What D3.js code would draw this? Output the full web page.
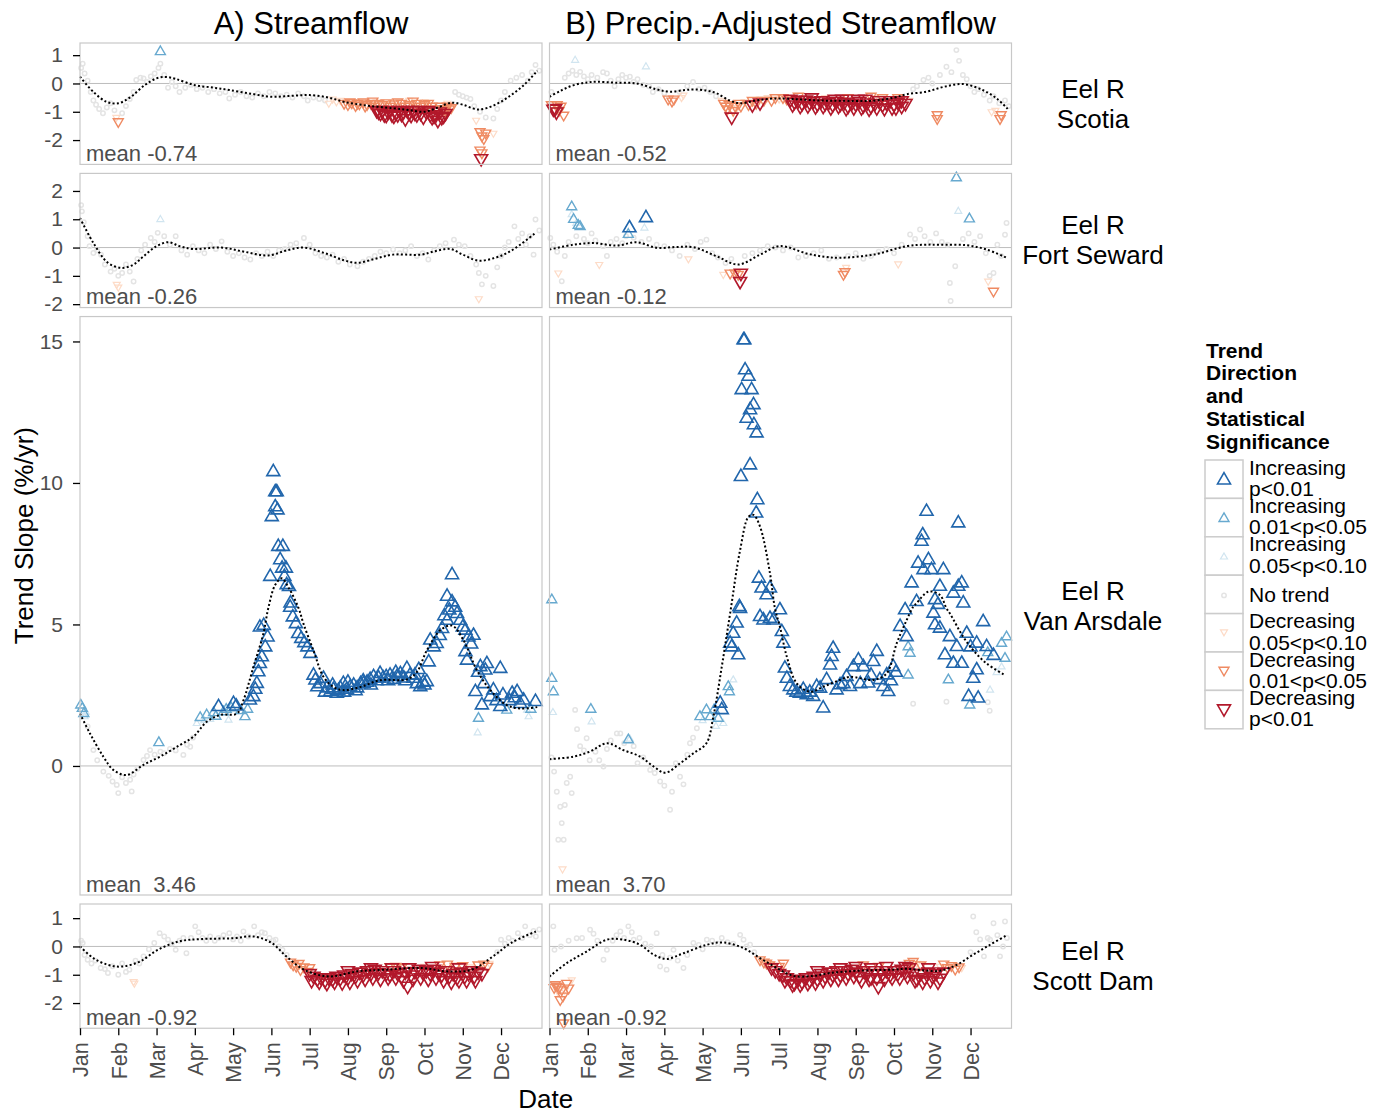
<!DOCTYPE html>
<html>
<head>
<meta charset="utf-8">
<script src="https://cdn.jsdelivr.net/npm/d3@7"></script>
<style>
body { margin: 0; background: #fff; }
text { font-family: "Liberation Sans", Arial, Helvetica, sans-serif; }
</style>
</head>
<body>
<div id="chart"></div>
<script>
// ---- labels ----
const months = ['Jan','Feb','Mar','Apr','May','Jun','Jul','Aug','Sep','Oct','Nov','Dec'];
const columns = ['A) Streamflow', 'B) Precip.-Adjusted Streamflow'];
const sites = [['Eel R','Scotia'], ['Eel R','Fort Seward'], ['Eel R','Van Arsdale'], ['Eel R','Scott Dam']];
const yDomains = [[-2.86, 1.43], [-2.12, 2.62], [-4.56, 15.88], [-2.89, 1.5]];
const yTicks = [[-2,-1,0,1], [-2,-1,0,1,2], [0,5,10,15], [-2,-1,0,1]];
const means = [['-0.74','-0.52'], ['-0.26','-0.12'], [' 3.46',' 3.70'], ['-0.92','-0.92']];

// legend order: code 3 .. -3
const sigCodes = [3, 2, 1, 0, -1, -2, -3];
const sigLabels = [['Increasing','p<0.01'], ['Increasing','0.01<p<0.05'], ['Increasing','0.05<p<0.10'],
  ['No trend'], ['Decreasing','0.05<p<0.10'], ['Decreasing','0.01<p<0.05'], ['Decreasing','p<0.01']];
const sigColors = ['#2166ac', '#67a9cf', '#d1e5f0', '#e4e4e4', '#fddbc7', '#ef8a62', '#b2182b'];

// ---- points: [month, slope %/yr, code] ----
const scotiaA = [
  [0.03,0.55,0],[0.07,0.7,0],[0.12,0.35,0],[0.2,0.1,0],[0.28,-0.3,0],[0.35,-0.6,0],[0.42,-0.75,0],[0.5,-0.9,0],[0.6,-1.05,0],
  [0.7,-0.85,0],[0.8,-0.7,0],[0.9,-0.95,0],[1.1,-1.05,0],[1.2,-0.8,0],[1.3,-0.55,0],[1.4,-0.3,0],[1.47,0.12,0],[1.58,0.2,0],
  [1.66,0.18,0],[1.75,0.05,0],[1.85,0.25,0],[1.95,0.35,0],[2.05,0.55,0],[2.1,0.7,0],[2.2,0.3,0],[2.3,-0.15,0],[2.4,0.05,0],
  [2.5,-0.1,0],[2.6,-0.3,0],[2.75,-0.15,0],[2.9,-0.05,0],[3.05,-0.2,0],[3.2,-0.15,0],[3.35,-0.3,0],[3.5,-0.2,0],[3.65,-0.35,0],
  [3.8,-0.3,0],[3.9,-0.53,0],[4.05,-0.4,0],[4.2,-0.3,0],[4.35,-0.45,0],[4.5,-0.5,0],[4.65,-0.35,0],[4.8,-0.45,0],[4.95,-0.3,0],
  [5.1,-0.35,0],[5.25,-0.45,0],[5.4,-0.4,0],[5.55,-0.5,0],[5.7,-0.35,0],[5.85,-0.45,0],[5.95,-0.6,0],[6.1,-0.5,0],[6.25,-0.55,0],
  [6.4,-0.6,0],[1.0,-1.35,-2],[0.95,-1.2,-1],[2.1,1.12,2],
  [6.5,-0.7,-1],[6.6,-0.55,-1],[6.7,-0.65,-1],[6.8,-0.6,-1],
  [6.9,-0.7,-2],[7.0,-0.75,-2],[7.1,-0.68,-2],[7.2,-0.78,-2],[7.3,-0.72,-2],[7.4,-0.65,-2],[7.5,-0.75,-2],[7.6,-0.7,-2],
  [7.7,-0.8,-2],[7.8,-0.7,-2],[7.9,-0.75,-2],[8.0,-0.68,-2],[8.2,-0.72,-2],[8.4,-0.7,-2],[8.6,-0.75,-2],[8.8,-0.7,-2],
  [9.0,-0.75,-2],[9.2,-0.8,-2],[9.4,-0.8,-2],[9.5,-0.9,-2],[9.6,-0.8,-2],[9.7,-0.85,-2],
  [7.05,-0.65,-2],[7.25,-0.7,-2],[7.45,-0.8,-2],[7.65,-0.62,-2],[8.1,-0.8,-2],[8.3,-0.65,-2],[8.5,-0.8,-2],[8.7,-0.62,-2],
  [8.9,-0.8,-2],[9.1,-0.7,-2],[9.3,-0.9,-2],[9.55,-0.95,-2],[9.65,-0.9,-2],
  [7.75,-0.95,-3],[7.85,-1.05,-3],[7.95,-1.1,-3],[8.05,-1.0,-3],[8.15,-1.1,-3],[8.25,-1.05,-3],[8.35,-0.95,-3],[8.45,-1.0,-3],
  [8.5,-1.24,-3],[8.6,-1.05,-3],[8.7,-0.95,-3],[8.8,-1.1,-3],[8.9,-1.05,-3],[8.97,-1.18,-3],[9.05,-1.0,-3],[9.15,-1.1,-3],
  [9.25,-1.15,-3],[9.35,-1.3,-3],[9.45,-1.2,-3],[9.55,-1.05,-3],
  [7.8,-1.0,-3],[7.9,-0.95,-3],[8.0,-1.12,-3],[8.1,-0.95,-3],[8.2,-1.15,-3],[8.3,-1.1,-3],[8.4,-1.08,-3],[8.55,-0.95,-3],
  [8.65,-1.12,-3],[8.75,-1.05,-3],[8.85,-0.95,-3],[9.1,-0.95,-3],[9.2,-1.2,-3],[9.3,-1.1,-3],[9.4,-1.0,-3],[9.5,-1.15,-3],
  [8.6,-0.6,-1],[9.0,-0.65,-1],[9.6,-0.7,-1],
  [9.8,-0.3,0],[9.9,-0.4,0],[10.0,-0.45,0],[10.1,-0.5,0],[10.2,-0.55,0],[10.3,-0.8,0],[10.45,-1.0,0],[10.6,-1.2,0],[10.8,-1.24,0],
  [10.9,-0.9,0],[11.0,-0.6,0],[11.1,-0.3,0],[11.25,0.1,0],[11.4,0.2,0],[11.55,0.3,0],[11.7,0.1,0],[11.8,0.4,0],[11.9,0.65,0],[12.0,0.45,0],
  [10.35,-1.3,-1],[10.45,-1.7,-2],[10.5,-1.85,-2],[10.55,-1.95,-2],[10.6,-1.75,-2],[10.45,-2.35,-2],[10.5,-2.45,-2],[10.48,-2.65,-3],[10.8,-1.76,-1]
];
const scotiaB = [
  [0.05,-0.75,-2],[0.1,-0.9,-3],[0.15,-0.88,-3],[0.18,-1.0,-3],[0.2,-0.75,-2],[0.3,-0.8,-2],[0.37,-1.12,-2],[0.25,-0.95,-2],
  [0.05,-0.3,0],[0.4,0.2,0],[0.5,0.35,0],[0.6,0.45,0],[0.7,0.3,0],[0.8,0.41,0],[0.9,0.25,0],[1.0,0.15,0],[1.1,0.3,0],[1.25,0.2,0],
  [1.4,0.4,0],[1.5,0.35,0],[1.6,0.1,0],[1.7,-0.1,0],[1.8,0.15,0],[1.9,0.3,0],[2.0,0.2,0],[2.1,0.24,0],[2.2,0.05,0],[2.3,0.15,0],
  [2.45,-0.05,0],[2.6,-0.1,0],[2.7,-0.3,0],[2.85,-0.2,0],[3.0,-0.35,0],[3.4,-0.3,0],[3.6,-0.1,0],[3.75,0.05,0],[3.9,-0.2,0],
  [4.05,-0.15,0],[4.2,-0.3,0],[4.35,-0.45,0],
  [0.67,0.82,1],[2.52,0.59,1],
  [3.1,-0.55,-2],[3.2,-0.62,-2],[3.25,-0.55,-2],[3.5,-0.41,-1],[3.45,-0.5,-1],
  [4.5,-0.6,-1],[4.55,-0.7,-2],[4.6,-0.8,-2],[4.65,-0.9,-2],[4.7,-0.75,-2],[4.76,-1.18,-3],[4.8,-0.95,-2],[4.85,-0.8,-2],
  [4.9,-0.85,-1],[4.95,-0.7,-2],[5.0,-0.8,-2],[5.1,-0.65,-1],[5.2,-0.75,-2],[5.3,-0.6,-2],[5.4,-0.7,-2],[5.5,-0.55,-1],
  [5.6,-0.6,-2],[5.7,-0.5,-1],[5.8,-0.6,-2],[5.9,-0.5,-2],[6.0,-0.55,-1],[6.1,-0.5,-2],[6.2,-0.55,-2],[5.3,-0.75,-3],[5.5,-0.68,-3],
  [6.3,-0.55,-3],[6.4,-0.65,-3],[6.5,-0.6,-3],[6.6,-0.7,-3],[6.7,-0.58,-3],[6.8,-0.68,-3],[6.9,-0.62,-3],[7.0,-0.72,-3],
  [7.1,-0.6,-3],[7.2,-0.7,-3],[7.3,-0.65,-3],[7.4,-0.75,-3],[7.5,-0.62,-3],[7.6,-0.72,-3],[7.7,-0.66,-3],[7.8,-0.8,-3],
  [7.9,-0.68,-3],[8.0,-0.72,-3],[8.1,-0.62,-3],[8.2,-0.78,-3],[8.3,-0.68,-3],[8.4,-0.8,-3],[8.5,-0.7,-3],[8.6,-0.6,-3],
  [8.7,-0.75,-3],[8.8,-0.68,-3],[8.9,-0.6,-3],[9.0,-0.72,-3],[9.1,-0.65,-3],[9.2,-0.6,-3],[9.3,-0.7,-3],
  [6.35,-0.75,-3],[6.55,-0.8,-3],[6.75,-0.78,-3],[6.95,-0.82,-3],[7.15,-0.8,-3],[7.35,-0.85,-3],[7.55,-0.8,-3],[7.75,-0.88,-3],
  [7.95,-0.85,-3],[8.15,-0.85,-3],[8.35,-0.9,-3],[8.55,-0.85,-3],[8.75,-0.88,-3],[9.05,-0.85,-3],[8.25,-0.55,-3],[7.45,-0.55,-3],
  [6.85,-0.5,-3],[7.65,-0.55,-3],[8.05,-0.55,-3],
  [6.5,-0.45,-2],[7.2,-0.5,-1],[7.8,-0.5,-2],[8.4,-0.45,-2],[8.5,-0.5,-1],[8.7,-0.5,-2],[9.1,-0.5,-2],[9.3,-0.55,-1],
  [9.4,-0.6,-1],[9.2,-0.8,-3],[8.95,-0.85,-3],
  [9.5,-0.2,0],[9.6,-0.1,0],[9.77,0.12,0],[9.9,0.2,0],[10.0,0.0,0],[10.2,0.3,0],[10.37,0.59,0],[10.5,0.4,0],[10.63,1.18,0],
  [10.7,0.8,0],[10.8,0.3,0],[10.9,0.15,0],[11.0,-0.1,0],[11.1,-0.3,0],[11.2,-0.2,0],[11.35,-0.4,0],[11.5,-0.6,0],[11.6,-0.45,0],
  [11.75,-0.7,0],[11.9,-0.6,0],[12.0,-0.8,0],
  [10.13,-1.24,-2],[10.13,-1.1,-2],[11.55,-1.0,-1],[11.65,-0.95,-1],[11.77,-1.24,-2],[11.8,-1.1,-2]
];
const sewardA = [
  [0.03,1.5,0],[0.05,1.28,0],[0.1,0.9,0],[0.2,0.4,0],[0.25,0.05,0],[0.35,-0.19,0],[0.45,-0.1,0],[0.55,-0.25,0],[0.65,-0.6,0],
  [0.8,-0.85,0],[0.9,-0.75,0],[1.0,-1.0,0],[1.1,-0.9,0],[1.2,-0.6,0],[1.3,-0.85,0],[1.4,-1.2,0],[1.5,-0.4,0],[1.6,-0.1,0],
  [1.7,0.1,0],[1.85,0.34,0],[1.95,0.2,0],[2.03,0.52,0],[2.2,0.4,0],[2.35,0.1,0],[2.5,0.4,0],[2.65,-0.1,0],[2.8,-0.25,0],
  [2.95,0.05,0],[3.1,-0.1,0],[3.25,-0.2,0],[3.4,0.1,0],[3.55,-0.05,0],[3.7,0.22,0],[3.85,-0.15,0],[4.0,-0.3,0],[4.15,-0.2,0],
  [4.3,-0.35,0],[4.45,-0.42,0],[4.6,-0.2,0],[4.75,-0.3,0],[4.9,-0.15,0],[5.05,-0.3,0],[5.2,-0.1,0],[5.35,-0.05,0],[5.5,0.1,0],
  [5.65,0.15,0],[5.85,0.34,0],[6.0,0.1,0],[6.15,-0.2,0],[6.3,-0.3,0],[6.45,-0.35,0],[6.6,-0.25,0],[6.75,-0.5,0],[6.9,-0.4,0],
  [7.05,-0.6,0],[7.25,-0.66,0],[7.4,-0.5,0],[7.55,-0.4,0],[7.7,-0.3,0],[7.85,-0.15,0],[8.0,-0.2,0],[8.18,-0.07,0],[8.35,-0.2,0],
  [8.5,-0.1,0],[8.65,0.05,0],[8.8,-0.3,0],[8.95,-0.2,0],[9.1,-0.42,0],[9.25,-0.1,0],[9.4,0.05,0],[9.55,0.15,0],[9.77,0.28,0],
  [9.9,0.1,0],[10.05,0.05,0],[10.2,-0.3,0],[10.35,-0.6,0],[10.42,-0.9,0],[10.5,-1.3,0],[10.6,-1.0,0],[10.8,-1.36,0],[10.9,-0.7,0],
  [11.0,-0.3,0],[11.1,0.0,0],[11.2,0.2,0],[11.35,0.75,0],[11.45,0.3,0],[11.55,0.5,0],[11.65,0.1,0],[11.75,0.4,0],[11.85,-0.25,0],
  [11.9,0.99,0],[12.0,0.6,0],
  [2.1,0.99,1],[0.96,-1.3,-1],[1.0,-1.4,-1],[10.42,-1.81,-1]
];
const sewardB = [
  [0.02,0.34,0],[0.1,0.1,0],[0.2,-0.15,0],[0.32,-1.19,0],[0.4,-0.3,0],[0.5,0.2,0],[0.7,0.4,0],[0.9,0.3,0],[1.0,0.15,0],
  [1.1,0.5,0],[1.2,0.25,0],[1.4,0.05,0],[1.5,-0.3,0],[1.6,0.2,0],[1.75,0.3,0],[1.9,0.15,0],[2.0,0.4,0],[2.2,0.35,0],[2.4,0.2,0],
  [2.6,0.3,0],[2.8,0.1,0],[3.0,0.05,0],[3.2,-0.1,0],[3.4,-0.3,0],[3.6,0.1,0],[3.8,-0.05,0],[3.95,0.2,0],[4.1,0.28,0],[4.25,-0.2,0],
  [4.4,-0.35,0],[4.6,-0.55,0],[4.75,-0.4,0],[5.1,-0.3,0],[5.3,-0.2,0],[5.5,-0.1,0],[5.7,0.05,0],[5.9,0.0,0],[6.1,-0.1,0],
  [6.3,0.0,0],[6.5,-0.35,0],[6.7,-0.3,0],[6.9,-0.2,0],[7.1,-0.1,0],[7.3,-0.4,0],[7.5,-0.35,0],[7.8,-0.3,0],[8.0,-0.2,0],
  [8.2,-0.4,0],[8.4,-0.3,0],[8.6,-0.15,0],[8.8,-0.05,0],[9.0,-0.2,0],[9.2,0.1,0],[9.42,0.46,0],[9.55,0.3,0],[9.68,0.64,0],
  [9.8,0.4,0],[9.95,0.2,0],[10.1,0.5,0],[10.25,0.2,0],[10.4,0.1,0],[10.46,-1.25,0],[10.48,-1.89,0],[10.6,-0.66,0],[10.8,0.3,0],
  [10.95,0.5,0],[11.1,0.2,0],[11.25,0.4,0],[11.4,-0.2,0],[11.5,-1.0,0],[11.6,-0.9,0],[11.7,0.1,0],[11.8,-0.3,0],[11.9,0.45,0],[11.94,0.87,0],
  [0.58,1.44,2],[0.63,0.99,2],[0.75,0.78,2],[0.8,0.74,2],[0.58,1.16,1],[0.7,0.85,1],[2.09,0.69,3],[2.52,1.05,3],[2.06,0.46,2],
  [2.48,0.69,1],[10.63,2.46,2],[10.68,1.28,1],[10.97,1.01,2],
  [0.23,-0.9,-1],[1.3,-0.6,-1],[3.63,-0.4,-1],[9.11,-0.58,-1],[11.46,-1.19,-1],[4.54,-0.95,-1],[4.72,-0.9,-2],[4.85,-0.9,-2],
  [4.93,-0.95,-2],[4.98,-1.19,-3],[5.0,-0.9,-3],[7.68,-0.95,-2],[7.72,-0.85,-2],[7.75,-0.7,-1],[11.6,-1.54,-2]
];
const arsdaleA = [
  [0.02,2.15,2],[0.06,2.03,2],[0.1,1.85,2],[0.12,1.74,1],[0.15,1.9,1],
  [0.2,1.4,0],[0.35,0.56,0],[0.45,0.2,0],[0.61,-0.2,0],[0.75,-0.35,0],[0.85,-0.55,0],[0.96,-0.67,0],[1.0,-0.96,0],[1.1,-0.4,0],
  [1.2,-0.6,0],[1.31,-0.49,0],[1.35,-0.9,0],[1.4,-0.3,0],[1.5,-0.1,0],[1.66,0.21,0],[1.75,0.35,0],[1.83,0.56,0],[1.95,0.4,0],
  [2.1,0.5,0],[2.2,0.45,0],[2.35,0.6,0],[2.5,0.55,0],[2.7,0.39,0],[2.8,0.75,0],[2.88,0.68,0],[2.95,1.0,0],
  [2.06,0.82,2],
  [3.05,1.5,1],[3.14,1.71,2],[3.25,1.6,1],[3.31,1.8,2],[3.4,1.65,1],[3.49,1.88,2],[3.55,1.75,2],[3.62,2.09,3],[3.75,1.91,2],
  [3.82,2.0,2],[3.88,1.62,1],[3.95,2.05,2],[4.01,2.2,3],[4.08,2.11,3],[4.2,1.95,2],[4.31,1.74,2],[4.38,2.0,2],[4.44,2.32,3],[4.53,2.44,3],
  [4.58,2.7,3],[4.62,2.91,3],[4.66,3.32,3],[4.7,3.61,3],[4.75,3.85,3],[4.84,4.2,3],[4.7,4.9,3],[4.8,4.96,3],[4.9,4.55,3],
  [5.05,10.39,3],[5.1,9.68,3],[5.14,9.68,3],[5.1,9.15,3],[5.16,9.04,3],[5.01,8.8,3],[5.18,7.75,3],[5.3,7.75,3],[5.23,7.28,3],
  [5.28,6.98,3],[5.38,6.98,3],[4.97,6.69,3],[5.34,6.69,3],[5.4,6.4,3],[5.46,6.33,3],[5.5,5.75,3],
  [5.49,5.6,3],[5.56,5.26,3],[5.64,5.02,3],[5.7,4.67,3],[5.78,4.5,3],[5.86,4.35,3],[5.94,4.2,3],[6.02,3.97,3],[6.1,3.2,3],
  [6.15,3.03,3],[6.2,2.79,3],[6.28,2.9,3],[6.36,3.09,3],[6.45,2.75,3],[6.54,2.62,3],[6.62,2.7,3],[6.71,2.56,3],[6.8,2.75,3],
  [6.88,2.91,3],[6.97,2.7,3],[7.06,2.79,3],[7.15,2.85,3],[7.24,2.75,3],[7.33,2.9,3],[7.41,2.91,3],[7.5,2.95,3],[7.58,3.05,3],
  [7.67,3.15,3],[7.75,3.0,3],[7.84,3.26,3],[7.92,3.1,3],[8.0,3.15,3],[8.1,3.2,3],[8.2,3.05,3],[8.28,3.15,3],[8.37,3.25,3],
  [8.46,3.1,3],[8.54,3.44,3],[8.62,3.2,3],[8.71,3.09,3],[8.8,2.9,3],[8.89,2.79,3],[8.97,2.95,3],[9.06,2.97,3],[9.11,3.67,3],
  [6.4,2.6,3],[6.6,2.85,3],[6.75,2.65,3],[6.9,2.6,3],[7.0,2.95,3],[7.2,2.65,3],[7.4,3.0,3],[7.6,2.85,3],[7.8,3.1,3],
  [8.05,3.0,3],[8.25,3.3,3],[8.5,3.0,3],[8.75,3.2,3],[8.85,3.4,3],[9.0,2.85,3],
  [9.15,4.44,3],[9.24,4.2,3],[9.32,4.32,3],[9.4,4.6,3],[9.46,4.85,3],[9.52,5.3,3],[9.59,5.14,3],[9.59,5.99,3],[9.65,5.5,3],
  [9.72,5.79,3],[9.72,6.75,3],[9.8,5.6,3],[9.85,5.38,3],[9.93,5.14,3],[10.0,4.9,3],[10.07,4.79,3],[10.07,4.03,3],[10.11,3.73,3],
  [10.15,4.55,3],[10.22,4.3,3],[10.28,4.61,3],[10.33,2.62,3],[10.4,3.3,3],[10.46,3.5,3],[10.5,2.15,3],[10.55,2.9,3],[10.59,3.38,3],
  [10.63,3.61,3],[10.72,2.44,3],[10.8,2.68,3],[10.88,2.3,3],[10.98,3.44,3],[10.98,2.09,3],[11.05,2.5,3],[11.15,1.97,2],[11.22,2.3,3],
  [11.29,2.56,3],[11.36,2.4,3],[11.42,2.62,3],[11.5,2.2,3],[11.59,2.32,3],[11.68,1.97,1],[11.72,1.74,1],[11.78,2.0,2],[11.9,2.27,3],
  [10.41,1.68,2],[10.39,1.17,1]
];
const arsdaleB = [
  [0.06,5.87,2],[0.06,3.09,2],[0.1,2.62,2],[0.09,1.89,1],
  [0.05,0.3,0],[0.12,-0.2,0],[0.19,-0.91,0],[0.23,-2.61,0],[0.28,-1.44,0],[0.32,-2.02,0],[0.37,-2.61,0],[0.4,-1.38,0],[0.45,-0.6,0],
  [0.54,-0.38,0],[0.58,-0.96,0],[0.67,1.98,0],[0.72,1.3,0],[0.8,0.7,0],[0.9,0.55,0],[0.97,0.98,0],[1.05,0.2,0],[1.2,0.5,0],
  [1.3,0.2,0],[1.41,-0.02,0],[1.5,0.6,0],[1.6,0.9,0],[1.76,1.15,0],[1.85,1.15,0],[1.95,0.8,0],[2.2,0.7,0],[2.3,0.1,0],[2.45,0.3,0],
  [2.63,-0.14,0],[2.75,-0.25,0],[2.89,-0.55,0],[3.0,-0.7,0],[3.15,-1.55,0],[3.2,-0.91,0],[3.3,0.1,0],[3.41,-0.38,0],[3.5,-0.65,0],
  [3.6,0.4,0],[3.67,0.8,0],[3.75,1.0,0],[3.85,1.33,0],[9.5,2.2,0],[10.37,2.27,0],[11.45,2.25,0],[11.5,1.95,0],
  [0.34,-3.64,-1],
  [1.08,2.0,2],[1.1,1.56,1],[2.06,0.92,2],[2.1,0.95,1],
  [3.93,1.74,2],[4.0,1.6,1],[4.1,1.98,2],[4.2,1.74,2],[4.3,1.98,2],[4.41,1.68,2],[4.46,2.21,3],[4.5,1.98,3],[4.54,1.5,1],
  [4.35,1.4,1],[4.67,2.8,2],[4.7,2.62,2],[4.8,3.04,1],
  [4.72,4.33,3],[4.76,4.2,3],[4.8,4.68,3],[4.89,5.04,3],[4.93,3.92,3],[4.96,5.62,3],[4.98,5.56,3],
  [5.0,10.22,3],[5.24,10.63,3],[5.43,9.4,3],[5.4,8.93,3],[5.07,15.05,3],[5.09,15.05,3],[5.11,13.99,3],[5.2,13.76,3],[5.02,13.29,3],
  [5.28,13.29,3],[5.33,12.76,3],[5.24,12.58,3],[5.15,12.28,3],[5.34,12.05,3],[5.41,11.76,3],
  [5.47,6.63,3],[5.54,6.28,3],[5.76,6.28,3],[5.67,6.04,3],[5.5,5.27,3],[5.59,5.15,3],[5.76,5.21,3],[5.85,5.15,3],[6.02,5.51,3],
  [6.07,4.74,3],[6.11,4.33,3],[6.15,3.45,3],[6.2,3.09,3],[6.28,2.8,3],[6.37,2.68,3],[6.45,2.6,3],[6.54,2.56,3],[6.63,2.7,3],
  [6.72,2.51,3],[6.8,2.6,3],[6.89,2.45,3],[6.98,2.8,3],[7.07,2.74,3],[7.15,2.04,3],[7.24,3.04,3],[7.33,3.56,3],[7.37,3.86,3],
  [7.41,4.15,3],[7.5,2.68,3],[7.59,2.86,3],[7.68,2.9,3],[7.76,3.15,3],[7.85,2.8,3],[7.94,3.5,3],[8.07,3.74,3],[8.12,2.9,3],
  [8.2,3.5,3],[8.33,2.92,3],[8.4,3.2,3],[8.46,3.68,3],[8.55,4.04,3],[8.63,3.04,3],[8.72,2.8,3],[8.81,3.21,3],[8.85,2.62,3],
  [8.92,3.0,3],[8.98,3.5,3],[9.05,3.3,3],[9.16,4.92,3],[9.29,5.51,3],[9.33,4.56,3],[9.37,4.21,2],[9.42,3.98,2],[9.37,3.21,2],[9.59,5.8,3],
  [9.85,8.99,3],[9.75,8.16,3],[9.72,7.93,3],[9.63,7.16,3],[9.9,7.28,3],[9.77,6.93,3],[9.98,6.93,3],[10.29,6.93,3],[10.68,8.58,3],
  [9.46,6.46,3],[10.2,6.34,3],[10.68,6.34,3],[10.77,6.46,3],[10.55,6.1,3],[10.81,5.75,3],[10.07,5.87,3],[10.15,5.7,3],
  [10.03,5.39,3],[10.07,4.98,3],[10.2,4.86,3],[10.46,4.56,3],[10.33,3.92,3],[10.55,3.62,3],[10.42,3.04,2],[10.64,4.21,3],
  [10.77,3.62,3],[10.9,4.68,3],[11.0,4.2,3],[11.16,4.33,3],[11.33,5.09,3],[11.42,4.21,3],[11.45,4.0,2],[11.07,3.09,3],[11.16,3.39,3],
  [10.98,2.15,2],[11.2,2.39,3],[11.51,2.68,1],[11.81,4.33,2],[11.94,4.56,2],[11.9,3.8,2],[11.81,3.5,1],[11.68,3.3,1],[11.6,3.9,3],[10.95,2.45,3]
];
const scottA = [
  [0.03,0.2,0],[0.07,0.12,0],[0.12,-0.3,0],[0.2,-0.47,0],[0.3,-0.6,0],[0.4,-0.5,0],[0.54,-0.76,0],[0.65,-0.8,0],[0.73,-0.94,0],
  [0.85,-0.7,0],[1.0,-1.0,0],[1.1,-0.6,0],[1.2,-0.9,0],[1.29,-0.82,0],[1.45,-0.5,0],[1.55,-0.6,0],[1.66,-0.35,0],[1.8,-0.1,0],
  [1.94,0.12,0],[2.08,0.47,0],[2.2,0.35,0],[2.3,0.24,0],[2.4,0.1,0],[2.5,-0.12,0],[2.6,0.2,0],[2.7,0.3,0],[2.78,-0.24,0],
  [2.9,0.3,0],[3.01,0.71,0],[3.1,0.5,0],[3.2,0.3,0],[3.3,0.2,0],[3.4,0.35,0],[3.52,0.2,0],[3.62,0.3,0],[3.75,0.4,0],[3.9,0.47,0],
  [4.0,0.25,0],[4.1,0.35,0],[4.2,0.2,0],[4.27,0.53,0],[4.4,0.35,0],[4.55,0.71,0],[4.65,0.4,0],[4.75,0.5,0],[4.83,0.47,0],
  [4.95,0.3,0],[5.05,0.2,0],[5.11,0.24,0],[5.2,0.0,0],[5.29,-0.12,0],[5.4,-0.3,0],[10.9,-0.2,0],[11.0,0.24,0],[11.1,0.1,0],
  [11.2,0.3,0],[11.3,0.2,0],[11.44,0.47,0],[11.55,0.3,0],[11.63,0.71,0],[11.75,0.4,0],[11.85,0.55,0],[11.91,0.35,0],[12.0,0.6,0],
  [1.4,-1.24,-1],[1.42,-1.3,-1],
  [5.5,-0.55,-2],[5.57,-0.65,-2],[5.65,-0.7,-2],[5.72,-0.6,-2],[5.76,-0.82,-2],[5.85,-0.72,-2],[5.95,-0.88,-2],[6.0,-0.75,-2],
  [6.0,-0.95,-3],[6.1,-1.05,-3],[6.2,-1.15,-3],[6.3,-1.1,-3],[6.4,-1.2,-3],[6.5,-1.1,-3],[6.6,-1.15,-3],[6.7,-1.05,-3],
  [6.8,-1.12,-3],[6.9,-1.0,-3],[7.0,-1.1,-3],[7.1,-0.95,-3],[7.2,-1.05,-3],[7.3,-0.9,-3],[7.4,-1.0,-3],[7.5,-0.85,-3],
  [7.6,-0.95,-3],[7.7,-0.8,-3],[7.8,-0.92,-3],[7.9,-0.85,-3],[8.0,-0.95,-3],[8.1,-1.0,-3],[8.2,-0.85,-3],[8.3,-0.95,-3],
  [8.4,-1.05,-3],[8.5,-0.9,-3],[8.56,-1.4,-3],[8.65,-1.0,-3],[8.75,-0.88,-3],[8.85,-0.8,-3],[8.95,-0.9,-3],[9.05,-0.85,-3],
  [9.15,-0.95,-3],[9.25,-0.8,-3],[9.35,-0.9,-3],[9.45,-1.0,-3],[9.55,-0.85,-3],[9.65,-1.05,-3],[9.75,-0.95,-3],[9.85,-1.1,-3],
  [9.95,-0.9,-3],[10.05,-1.05,-3],[10.15,-0.95,-3],[10.25,-0.85,-3],[10.33,-1.2,-3],[10.4,-0.9,-3],[10.5,-0.95,-3],
  [6.05,-1.2,-3],[6.25,-1.25,-3],[6.45,-1.3,-3],[6.65,-1.25,-3],[6.85,-1.28,-3],[7.05,-1.25,-3],[7.25,-1.2,-3],[7.45,-1.15,-3],
  [7.65,-1.1,-3],[7.85,-1.15,-3],[8.05,-1.1,-3],[8.25,-1.1,-3],[8.45,-1.2,-3],[8.7,-1.15,-3],[8.9,-1.1,-3],[9.1,-1.15,-3],
  [9.3,-1.1,-3],[9.5,-1.2,-3],[9.7,-1.25,-3],[9.9,-1.2,-3],[10.1,-1.2,-3],[10.3,-1.05,-3],[7.0,-0.85,-3],[7.6,-0.75,-3],
  [8.15,-0.75,-3],[8.6,-0.75,-3],[9.2,-0.7,-3],[9.9,-0.75,-3],
  [8.1,-0.72,-2],[8.25,-0.7,-2],[8.4,-0.75,-2],[9.0,-0.7,-1],[9.4,-0.65,-2],[9.6,-0.62,-2],[9.8,-0.7,-2],[10.0,-0.68,-2],
  [10.2,-0.72,-1],[10.4,-0.65,-2],[10.55,-0.62,-2],[10.65,-0.7,-2],[10.7,-0.6,-1]
];
const scottB = [
  [0.15,-1.35,-2],[0.2,-1.4,-2],[0.25,-1.45,-2],[0.32,-1.53,-2],[0.28,-1.88,-2],[0.35,-1.75,-2],[0.22,-1.6,-1],[0.5,-1.47,-2],
  [0.45,-1.3,-2],[0.58,-1.18,-1],[0.37,-2.7,-2],[0.12,-1.45,-2],[0.4,-1.55,-1],
  [0.1,0.71,0],[0.13,-0.12,0],[0.3,0.0,0],[0.5,0.2,0],[0.71,0.29,0],[0.85,0.3,0],[1.06,0.59,0],[1.15,0.45,0],[1.25,0.2,0],
  [1.41,-0.47,0],[1.5,-0.12,0],[1.65,0.2,0],[1.75,0.4,0],[1.85,0.53,0],[1.95,0.3,0],[2.06,0.71,0],[2.15,0.5,0],[2.2,0.24,0],
  [2.35,0.3,0],[2.5,0.1,0],[2.65,0.0,0],[2.8,0.47,0],[2.89,-0.71,0],[2.95,-0.3,0],[3.06,-0.82,0],[3.15,-0.4,0],[3.24,-0.12,0],
  [3.35,-0.5,0],[3.5,-0.76,0],[3.6,-0.3,0],[3.76,0.12,0],[3.9,0.05,0],[4.0,-0.1,0],[4.11,0.24,0],[4.25,0.2,0],[4.4,0.1,0],
  [4.5,0.3,0],[4.65,0.15,0],[4.8,0.1,0],[4.98,0.41,0],[5.07,0.24,0],[5.15,0.0,0],[5.24,0.06,0],[5.35,-0.2,0],
  [11.0,-0.2,0],[11.07,1.06,0],[11.15,0.5,0],[11.25,0.25,0],[11.35,-0.35,0],[11.45,0.3,0],[11.51,0.24,0],[11.6,0.82,0],
  [11.7,0.4,0],[11.77,-0.35,0],[11.85,0.0,0],[11.9,0.88,0],[11.95,0.3,0],
  [5.5,-0.47,-2],[5.6,-0.55,-2],[5.67,-0.59,-2],[5.75,-0.65,-2],[6.11,-0.59,-2],[6.0,-0.7,-2],
  [5.8,-0.75,-3],[5.9,-0.85,-3],[6.0,-0.95,-3],[6.1,-1.0,-3],[6.2,-1.1,-3],[6.3,-1.2,-3],[6.4,-1.3,-3],[6.5,-1.15,-3],
  [6.6,-1.25,-3],[6.7,-1.1,-3],[6.8,-1.2,-3],[6.9,-1.05,-3],[7.0,-1.15,-3],[7.1,-0.95,-3],[7.2,-1.05,-3],[7.3,-0.9,-3],
  [7.4,-1.0,-3],[7.5,-0.85,-3],[7.6,-1.0,-3],[7.7,-0.85,-3],[7.8,-0.95,-3],[7.9,-0.8,-3],[8.0,-0.9,-3],[8.1,-1.05,-3],
  [8.2,-0.85,-3],[8.3,-0.95,-3],[8.4,-1.1,-3],[8.5,-0.85,-3],[8.59,-1.41,-3],[8.7,-0.95,-3],[8.8,-0.85,-3],[8.9,-1.0,-3],
  [9.0,-0.85,-3],[9.1,-0.95,-3],[9.2,-0.8,-3],[9.3,-0.9,-3],[9.4,-0.75,-3],[9.5,-0.95,-3],[9.6,-1.15,-3],[9.7,-0.95,-3],
  [9.8,-1.1,-3],[9.9,-0.9,-3],[10.0,-1.05,-3],[10.1,-0.95,-3],[10.2,-1.12,-3],[10.3,-0.9,-3],
  [6.15,-1.2,-3],[6.35,-1.35,-3],[6.55,-1.35,-3],[6.75,-1.3,-3],[6.95,-1.28,-3],[7.15,-1.2,-3],[7.35,-1.15,-3],[7.55,-1.15,-3],
  [7.75,-1.1,-3],[7.95,-1.05,-3],[8.15,-1.2,-3],[8.35,-1.15,-3],[8.55,-1.1,-3],[8.75,-1.15,-3],[8.95,-1.1,-3],[9.15,-1.1,-3],
  [9.35,-1.05,-3],[9.55,-1.2,-3],[9.75,-1.25,-3],[9.95,-1.2,-3],[10.15,-1.25,-3],[7.0,-0.85,-3],[7.6,-0.75,-3],[8.0,-0.7,-3],
  [8.4,-0.75,-3],[8.8,-0.7,-3],[9.3,-0.7,-3],[9.9,-0.75,-3],
  [8.2,-0.65,-2],[8.6,-0.7,-2],[9.4,-0.6,-2],[9.5,-0.53,-2],[9.6,-0.6,-1],[9.7,-0.65,-2],[10.2,-0.7,-1],[10.3,-0.62,-2],
  [10.4,-0.75,-2],[10.5,-0.68,-2],[10.6,-0.8,-2],[10.7,-0.72,-2],[10.77,-0.75,-1]
];

// ---- smoothed fits: [month, slope] ----
const scotiaAFit = [[0,0.24],[0.35,-0.3],[0.7,-0.65],[1.0,-0.7],[1.3,-0.5],[1.7,-0.05],[2.0,0.18],[2.25,0.23],[2.5,0.16],[3.0,-0.06],
  [3.5,-0.15],[3.9,-0.23],[4.5,-0.37],[5.0,-0.47],[5.5,-0.44],[6.0,-0.41],[6.5,-0.5],[6.9,-0.65],[7.5,-0.78],[8.2,-0.88],[8.6,-0.94],
  [9.0,-1.0],[9.35,-0.85],[9.7,-0.68],[10.0,-0.75],[10.4,-0.92],[10.8,-0.78],[11.2,-0.47],[11.6,-0.05],[11.95,0.45]];
const scotiaBFit = [[0,-0.47],[0.3,-0.25],[0.63,-0.06],[1.0,0.04],[1.24,0.06],[1.7,0.03],[2.28,0.0],[2.8,-0.21],[3.15,-0.29],[3.5,-0.24],
  [3.76,-0.21],[4.1,-0.25],[4.37,-0.35],[4.7,-0.6],[4.98,-0.7],[5.4,-0.6],[5.85,-0.53],[6.37,-0.55],[7.0,-0.6],[7.6,-0.61],[8.46,-0.61],
  [9.0,-0.5],[9.33,-0.38],[9.85,-0.29],[10.3,-0.12],[10.8,-0.02],[11.33,-0.24],[11.7,-0.55],[11.97,-0.9]];
const sewardAFit = [[0,1.05],[0.35,0.16],[0.73,-0.54],[1.1,-0.72],[1.4,-0.6],[1.66,-0.31],[2.0,0.05],[2.31,0.19],[2.6,0.05],[2.96,-0.05],
  [3.7,0.0],[4.3,-0.15],[4.92,-0.28],[5.4,-0.1],[5.85,0.0],[6.4,-0.2],[6.9,-0.45],[7.25,-0.54],[7.7,-0.4],[8.18,-0.25],[8.9,-0.25],
  [9.3,-0.12],[9.67,-0.05],[10.0,-0.25],[10.4,-0.46],[10.8,-0.38],[11.16,-0.19],[11.5,0.1],[11.9,0.52]];
const sewardBFit = [[0,-0.07],[0.63,0.1],[1.15,0.16],[1.76,0.07],[2.28,0.19],[2.8,-0.01],[3.3,0.02],[3.76,0.01],[4.37,-0.31],[4.93,-0.6],
  [5.5,-0.25],[6.02,0.05],[6.72,-0.21],[7.2,-0.33],[7.59,-0.36],[8.46,-0.25],[9.33,0.05],[9.8,0.1],[10.2,0.1],[10.9,0.08],[11.42,-0.07],[11.94,-0.36]];
const arsdaleAFit = [[0,1.85],[0.26,1.15],[0.61,0.33],[0.87,-0.14],[1.22,-0.32],[1.66,0.04],[2.09,0.33],[2.61,0.74],[2.96,1.03],[3.31,1.56],
  [3.66,1.8],[4.1,1.85],[4.27,2.32],[4.53,3.5],[4.79,4.67],[4.92,5.58],[5.1,6.4],[5.27,6.63],[5.45,6.3],[5.71,5.58],[5.84,5.02],[6.1,4.08],
  [6.36,3.15],[6.62,2.79],[6.88,2.68],[7.32,2.79],[7.84,3.03],[8.54,3.06],[8.8,3.32],[9.06,4.08],[9.41,4.79],[9.72,4.96],[10.02,4.44],
  [10.37,3.38],[10.72,2.68],[11.15,2.15],[11.5,2.03],[12.0,2.09]];
const arsdaleBFit = [[0,0.24],[0.63,0.33],[1.06,0.51],[1.5,0.8],[1.93,0.56],[2.37,0.33],[2.72,-0.02],[3.02,-0.24],[3.41,0.09],[3.76,0.45],
  [4.1,0.8],[4.28,1.74],[4.5,3.5],[4.72,5.4],[4.98,7.63],[5.2,8.81],[5.33,8.87],[5.5,8.46],[5.76,6.81],[5.89,5.57],[6.02,4.92],[6.2,3.86],
  [6.46,2.92],[6.81,2.62],[7.15,2.8],[7.59,3.04],[7.85,3.15],[8.46,3.04],[8.81,3.27],[9.07,4.33],[9.33,5.15],[9.5,5.62],[9.59,5.75],
  [9.9,6.16],[10.2,6.04],[10.37,5.57],[10.46,5.39],[10.81,4.56],[11.07,4.09],[11.42,3.62],[11.9,3.21]];
const scottAFit = [[0,0],[0.35,-0.41],[0.73,-0.65],[1.1,-0.71],[1.57,-0.53],[2.03,-0.12],[2.59,0.18],[3.15,0.26],[3.99,0.29],[4.55,0.35],
  [5.01,0.12],[5.39,-0.35],[5.85,-0.82],[6.5,-1.06],[7.25,-0.88],[8.0,-0.82],[8.93,-0.76],[9.58,-0.88],[10.23,-0.82],[10.79,-0.35],
  [11.26,0.12],[11.91,0.53]];
const scottBFit = [[0,-1.06],[0.45,-0.59],[0.97,-0.18],[1.5,0.24],[1.93,0.24],[2.37,0.06],[2.72,-0.29],[3.06,-0.44],[3.5,-0.24],[4.11,0.06],
  [4.54,0.14],[5.07,-0.06],[5.5,-0.41],[5.94,-0.76],[6.37,-1.04],[6.89,-1.04],[7.33,-0.94],[8.02,-0.86],[8.98,-0.82],[9.33,-0.79],
  [9.8,-0.85],[10.2,-0.86],[10.64,-0.65],[11.07,-0.29],[11.51,0.06],[11.94,0.39]];

const points = [[scotiaA, scotiaB], [sewardA, sewardB], [arsdaleA, arsdaleB], [scottA, scottB]];
const fits = [[scotiaAFit, scotiaBFit], [sewardAFit, sewardBFit], [arsdaleAFit, arsdaleBFit], [scottAFit, scottBFit]];

// ---- layout ----
const W = 1373, H = 1115;
const pxPerUnit = 28.3, rowGap = 9, top0 = 43;
const colLeft = [80, 549.5], colW = 462;

const svg = d3.select('#chart').append('svg')
  .attr('width', W).attr('height', H)
  .style('background', '#fff');

const x = colLeft.map(l => d3.scaleLinear().domain([0, 12.07]).range([l, l + colW]));

let yTop = top0;
const y = yDomains.map(dom => {
  const h = (dom[1] - dom[0]) * pxPerUnit;
  const s = d3.scaleLinear().domain(dom).range([yTop + h, yTop]);
  yTop += h + rowGap;
  return s;
});

const colorOf = c => sigColors[3 - c];
const sideOf = {3: 13, 2: 10, 1: 7};
const strokeOf = {3: 1.6, 2: 1.4, 1: 1.2};

function drawMark(g, c, cx, cy) {
  if (c === 0) {
    g.append('circle').attr('cx', cx).attr('cy', cy).attr('r', 2.2)
      .attr('fill', 'none').attr('stroke', colorOf(0)).attr('stroke-width', 1.5);
    return;
  }
  const s = sideOf[Math.abs(c)];
  g.append('path')
    .attr('d', d3.symbol().type(d3.symbolTriangle).size(Math.sqrt(3) / 4 * s * s)())
    .attr('transform', `translate(${cx},${cy})` + (c < 0 ? ' rotate(180)' : ''))
    .attr('fill', 'none')
    .attr('stroke', colorOf(c))
    .attr('stroke-width', strokeOf[Math.abs(c)]);
}

const fitLine = (xs, ys) => d3.line()
  .x(d => xs(d[0])).y(d => ys(d[1]))
  .curve(d3.curveCatmullRom.alpha(0.5));

// ---- panels ----
y.forEach((ys, r) => {
  const [b, t] = ys.range();
  x.forEach((xs, c) => {
    const [l, rr] = xs.range();
    const g = svg.append('g');
    g.append('rect').attr('x', l).attr('y', t).attr('width', rr - l).attr('height', b - t).attr('fill', '#fff');
    g.append('line').attr('x1', l).attr('x2', rr).attr('y1', ys(0)).attr('y2', ys(0))
      .attr('stroke', '#bdbdbd').attr('stroke-width', 1);

    const pts = points[r][c].slice().sort((a, b) => Math.abs(a[2]) - Math.abs(b[2]));
    const pg = g.append('g');
    pts.forEach(d => drawMark(pg, d[2], xs(d[0]), ys(d[1])));

    g.append('path').datum(fits[r][c])
      .attr('d', fitLine(xs, ys))
      .attr('fill', 'none').attr('stroke', '#000')
      .attr('stroke-width', 2).attr('stroke-dasharray', '2,2.3');

    g.append('text').attr('x', l + 6).attr('y', b - 3.5)
      .style('white-space', 'pre')
      .attr('font-size', 22).attr('fill', '#4d4d4d')
      .text('mean ' + means[r][c]);

    g.append('rect').attr('x', l).attr('y', t).attr('width', rr - l).attr('height', b - t)
      .attr('fill', 'none').attr('stroke', '#c8c8c8').attr('stroke-width', 1.2);
  });

  // y axis (left column only)
  const ax = svg.append('g').attr('transform', `translate(${colLeft[0]},0)`)
    .call(d3.axisLeft(ys).tickValues(yTicks[r]).tickSize(7).tickPadding(10).tickFormat(d => String(d)));
  ax.select('.domain').remove();
  ax.selectAll('.tick line').attr('stroke', '#000').attr('stroke-width', 1.3);
  ax.selectAll('.tick text').attr('fill', '#4d4d4d').attr('font-size', 21)
    .style('font-family', '"Liberation Sans", Arial, sans-serif');

  // strip label on the right
  const mid = (b + t) / 2;
  svg.append('text').attr('x', 1093).attr('y', mid - 15 + 9)
    .attr('text-anchor', 'middle').attr('font-size', 26).text(sites[r][0]);
  svg.append('text').attr('x', 1093).attr('y', mid + 15 + 9)
    .attr('text-anchor', 'middle').attr('font-size', 26).text(sites[r][1]);
});

// x axes under bottom row
const bottom = y[3].range()[0];
x.forEach(xs => {
  const ax = svg.append('g').attr('transform', `translate(0,${bottom})`)
    .call(d3.axisBottom(xs).tickValues(d3.range(12)).tickSize(7).tickFormat(i => months[i]));
  ax.select('.domain').remove();
  ax.selectAll('.tick line').attr('stroke', '#000').attr('stroke-width', 1.3);
  ax.selectAll('.tick text')
    .attr('fill', '#4d4d4d').attr('font-size', 21.5)
    .style('font-family', '"Liberation Sans", Arial, sans-serif')
    .attr('transform', 'rotate(-90)')
    .attr('x', -14).attr('y', 0).attr('dy', '0.36em')
    .attr('text-anchor', 'end');
});

// column titles
x.forEach((xs, c) => {
  const [l, rr] = xs.range();
  svg.append('text').attr('x', (l + rr) / 2).attr('y', 34)
    .attr('text-anchor', 'middle').attr('font-size', 31).text(columns[c]);
});

// axis titles
svg.append('text').attr('transform', `translate(33,${(top0 + bottom) / 2}) rotate(-90)`)
  .attr('text-anchor', 'middle').attr('font-size', 26).text('Trend Slope (%/yr)');
svg.append('text').attr('x', (colLeft[0] + colLeft[1] + colW) / 2).attr('y', 1108)
  .attr('text-anchor', 'middle').attr('font-size', 26).text('Date');

// ---- legend ----
const leg = svg.append('g');
['Trend', 'Direction', 'and', 'Statistical', 'Significance'].forEach((t, i) => {
  leg.append('text').attr('x', 1206).attr('y', 357.5 + i * 22.75)
    .attr('font-size', 21).attr('font-weight', 'bold').text(t);
});
const keyTop = 460, keyH = 38.4, keyX = 1205, keyW = 38;
sigCodes.forEach((code, i) => {
  const ky = keyTop + i * keyH;
  leg.append('rect').attr('x', keyX).attr('y', ky).attr('width', keyW).attr('height', keyH)
    .attr('fill', '#fff').attr('stroke', '#cccccc').attr('stroke-width', 1.5);
  drawMark(leg, code, keyX + keyW / 2, ky + keyH / 2 + (code < 0 ? -1 : 1));
  const lab = sigLabels[i];
  if (lab.length === 1) {
    leg.append('text').attr('x', 1249).attr('y', ky + keyH / 2 + 7.5).attr('font-size', 21).text(lab[0]);
  } else {
    leg.append('text').attr('x', 1249).attr('y', ky + 14.5).attr('font-size', 21).text(lab[0]);
    leg.append('text').attr('x', 1249).attr('y', ky + 36).attr('font-size', 21).text(lab[1]);
  }
});
</script>
</body>
</html>
